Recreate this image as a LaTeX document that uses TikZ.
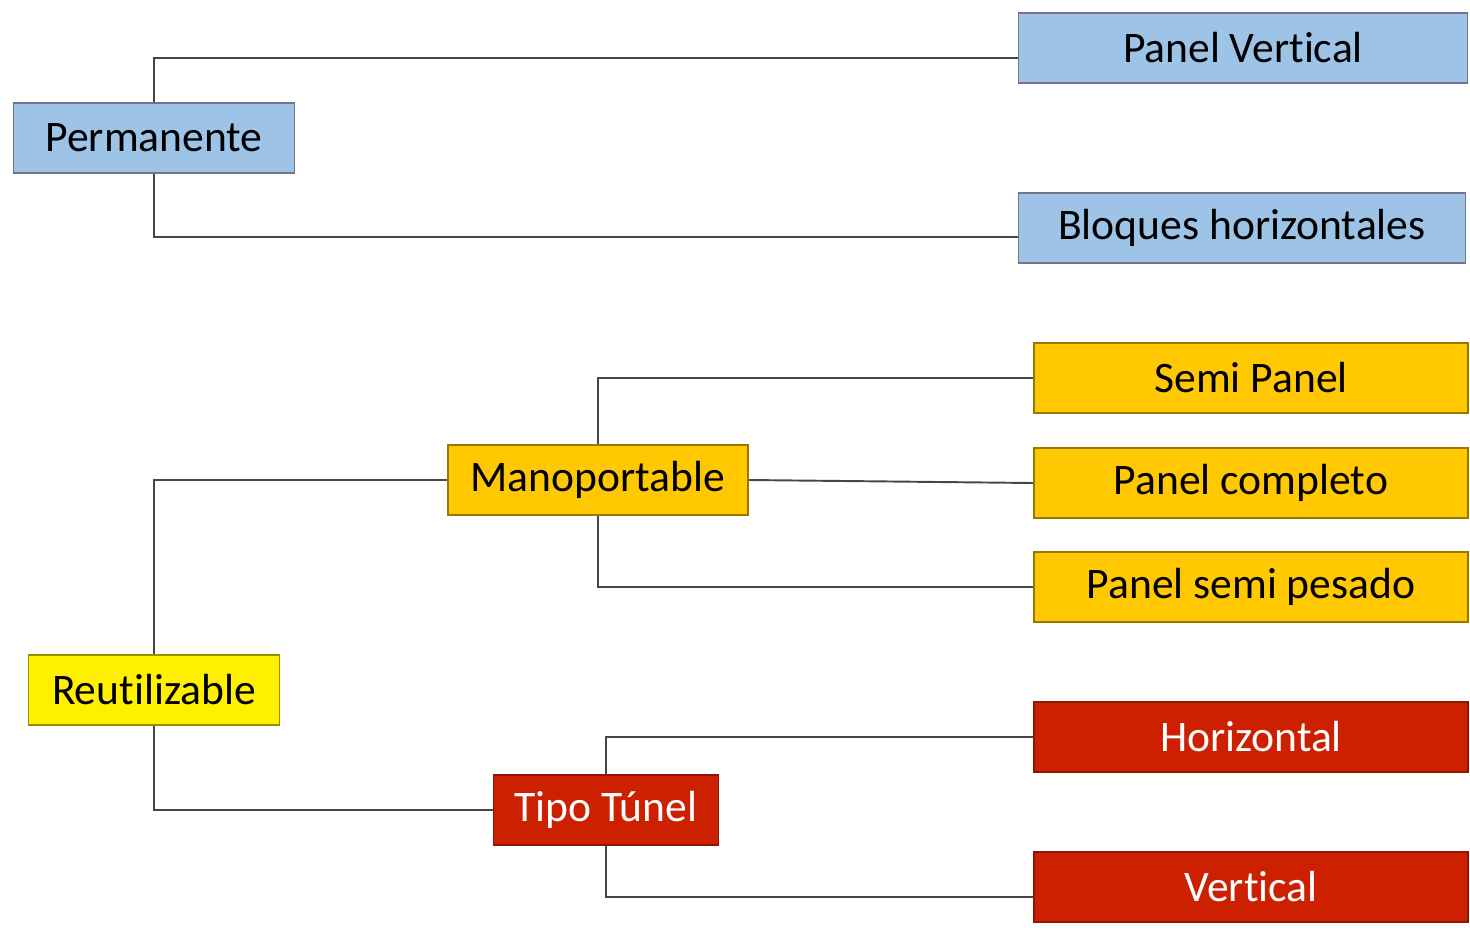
\documentclass[tikz,border=0pt]{standalone}
\usepackage{fontspec}
\setmainfont{Carlito}[RawFeature={-liga;-clig;-dlig;-calt}]
\usepackage{tikz,color}
\definecolor{boxblue}{RGB}{157,195,230}
\definecolor{boxgold}{RGB}{255,200,0}
\definecolor{boxyellow}{RGB}{255,240,0}
\definecolor{boxred}{RGB}{204,32,0}
\definecolor{linegray}{RGB}{70,70,70}

\begin{document}
\begin{tikzpicture}[x=0.02cm,y=-0.02cm,
  box/.style={draw,line width=1pt,minimum height=1.4cm,inner sep=0pt,font=\fontsize{24.8}{29}\selectfont},
  blue/.style={box,fill=boxblue,draw=gray!90!blue},
  gold/.style={box,fill=boxgold,draw=boxgold!60!black},
  yel/.style={box,fill=boxyellow,draw=boxyellow!60!black},
  red/.style={box,fill=boxred,draw=boxred!70!black,text=white},
  link/.style={draw=linegray,line width=1.1pt}]
\useasboundingbox (0,0) rectangle (1470,930);

\node[blue,minimum width=5.62cm] (perm) at (154,138) {Permanente};
\node[blue,minimum width=8.98cm] (pv) at (1243,48) {Panel Vertical};
\node[blue,minimum width=8.94cm] (bh) at (1242,228) {Bloques horizontales};

\node[yel,minimum width=5.02cm] (reu) at (154,690) {Reutilizable};
\node[gold,minimum width=6cm] (mano) at (598,480) {Manoportable};
\node[gold,minimum width=8.68cm] (sp) at (1251,378) {Semi Panel};
\node[gold,minimum width=8.68cm] (pc) at (1251,483) {Panel completo};
\node[gold,minimum width=8.68cm] (psp) at (1251,587) {Panel semi pesado};

\node[red,minimum width=4.5cm] (tt) at (606,810) {Tipo Túnel};
\node[red,minimum width=8.68cm] (hor) at (1251,737) {Horizontal};
\node[red,minimum width=8.68cm] (ver) at (1251,887) {Vertical};

% permanente
\draw[link] (perm.north) |- ([yshift=-0.2cm]pv.west);
\draw[link] (perm.south) |- ([yshift=-0.18cm]bh.west);
% reutilizable
\draw[link] (reu.north) |- (mano.west);
\draw[link] (reu.south) |- (tt.west);
% manoportable
\draw[link] (mano.north) |- (sp.west);
\draw[link] (mano.east) -- (pc.west);
\draw[link] (mano.south) |- (psp.west);
% tipo tunel
\draw[link] (tt.north) |- (hor.west);
\draw[link] (tt.south) |- ([yshift=-0.2cm]ver.west);
\end{tikzpicture}
\end{document}
